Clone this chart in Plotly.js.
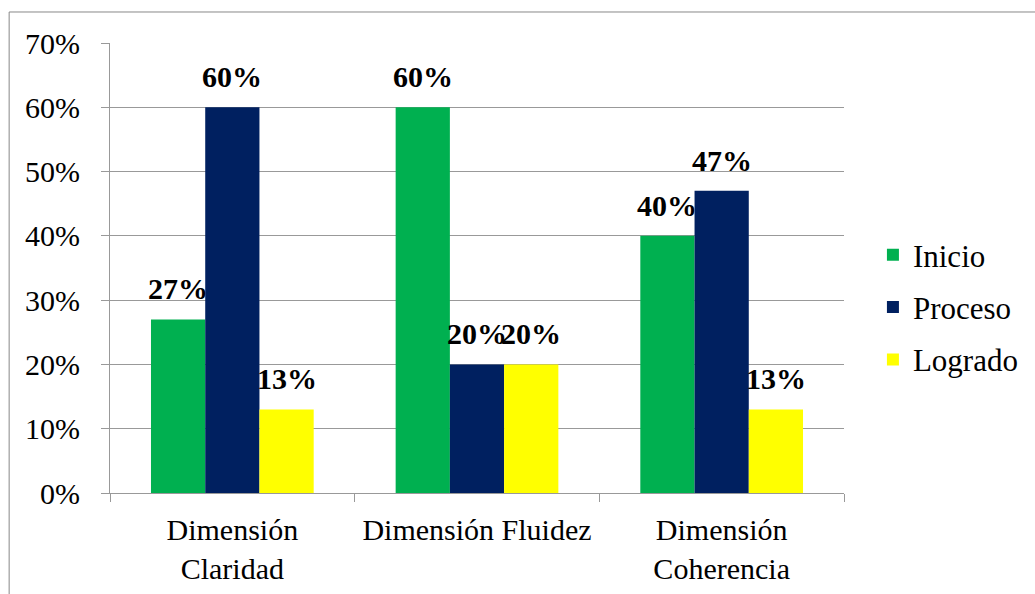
<!DOCTYPE html>
<html>
<head>
<meta charset="utf-8">
<script src="https://cdn.plot.ly/plotly-3.0.1.min.js"></script>
<style>html,body{margin:0;padding:0;background:#fff;}#chart{width:1035px;height:594px;}</style>
</head>
<body>
<div id="chart"></div>
<script>
const categories = ["Dimensión<br>Claridad", "Dimensión Fluidez", "Dimensión<br>Coherencia"];
const inicio = [0.27, 0.60, 0.40];
const proceso = [0.60, 0.20, 0.47];
const logrado = [0.13, 0.20, 0.13];
const seriesNames = ["Inicio", "Proceso", "Logrado"];
const seriesColors = ["#00B050", "#002060", "#FFFF00"];
const yTickVals = [0, 0.1, 0.2, 0.3, 0.4, 0.5, 0.6, 0.7];
const yTickText = ["0%", "10%", "20%", "30%", "40%", "50%", "60%", "70%"];

const font = "Liberation Serif, Times New Roman, Times, serif";
const values = [inicio, proceso, logrado];
const traces = values.map((v, i) => ({
  type: 'bar',
  name: seriesNames[i],
  legendgroup: 'g' + i,
  x: categories,
  y: v,
  marker: {color: seriesColors[i]},
  hoverinfo: 'skip'
}));

// data labels placed via the axes' scales (category + value), offset to each bar of the group
const barPx = 735 / 3 * (1 - 0.335) / 3;
const annotations = [];
values.forEach((v, i) => {
  v.forEach((val, j) => {
    annotations.push({
      x: categories[j], y: val, xref: 'x', yref: 'y',
      text: Math.round(val * 100) + '%',
      showarrow: false, yanchor: 'bottom', xanchor: 'center',
      xshift: (i - 1) * barPx, yshift: 12,
      font: {family: font, size: 30, color: '#000', weight: 'bold'}
    });
  });
});
// y tick labels, placed on the y scale, set further from the axis as in the reference
yTickVals.forEach((tv, k) => {
  annotations.push({
    x: 0, xref: 'paper', y: tv, yref: 'y',
    text: yTickText[k], showarrow: false,
    xanchor: 'right', yanchor: 'middle', xshift: -28,
    font: {family: font, size: 30, color: '#000'}
  });
});

const layout = {
  width: 1035, height: 594,
  margin: {l: 110, r: 190, t: 43, b: 101},
  paper_bgcolor: '#fff', plot_bgcolor: '#fff',
  barmode: 'group',
  bargap: 0.335,
  bargroupgap: 0,
  font: {family: font, color: '#000'},
  showlegend: true,
  legend: {x: 1.038, y: 0.413, xanchor: 'left', yanchor: 'middle',
           traceorder: 'grouped', tracegroupgap: 9,
           font: {family: font, size: 31, color: '#000'}, itemwidth: 30},
  xaxis: {
    showline: true, linecolor: '#999', linewidth: 1,
    ticks: 'outside', tickson: 'boundaries', ticklen: 8, tickcolor: '#999',
    ticklabelstandoff: 10,
    tickfont: {family: font, size: 30, color: '#000'},
    showgrid: false, fixedrange: true
  },
  yaxis: {
    range: [0, 0.7], tickvals: yTickVals, showticklabels: false,
    showline: true, linecolor: '#999', linewidth: 1,
    ticks: 'outside', ticklen: 8, tickcolor: '#999',
    showgrid: true, gridcolor: '#999', gridwidth: 1,
    zeroline: false,
    fixedrange: true
  },
  annotations: annotations,
  shapes: [{
    type: 'rect', xref: 'paper', yref: 'paper',
    x0: -0.1374, x1: 1.3, y0: -0.3, y1: 1.0689,
    line: {color: '#888', width: 1}, fillcolor: 'rgba(0,0,0,0)', layer: 'below'
  }]
};

Plotly.newPlot('chart', traces, layout, {displayModeBar: false, staticPlot: true});
</script>
</body>
</html>
